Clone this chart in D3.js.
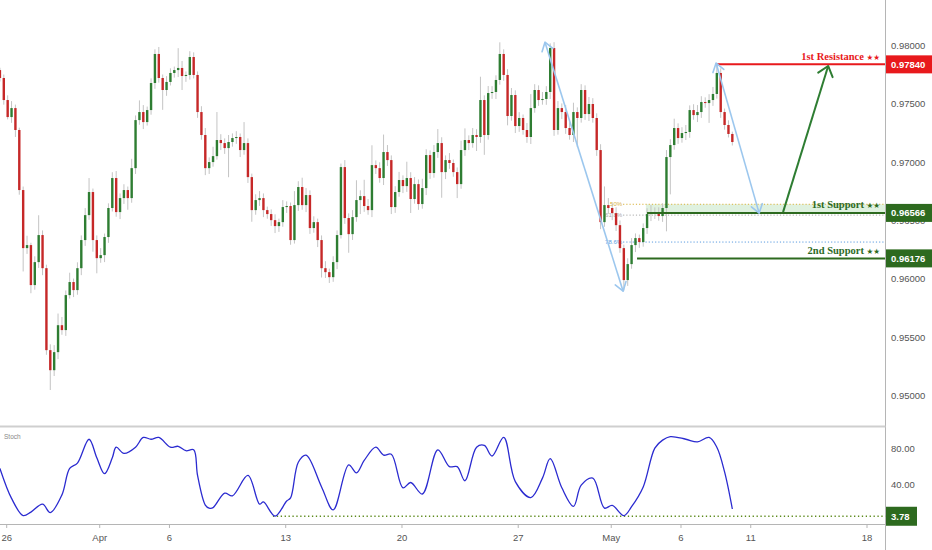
<!DOCTYPE html>
<html><head><meta charset="utf-8">
<script src="https://cdn.jsdelivr.net/npm/d3@7"></script>
<style>body{margin:0;background:#fff}svg{display:block}</style>
</head><body>
<svg id="c" width="932" height="550"></svg>
<script>
// ---- data (4H candles) ----
const firstOpen = 0.97791;
const closes = [
0.97723,0.97534,0.97388,0.97465,0.97277,0.96762,0.96264,0.96290,0.95947,0.96144,
0.96376,0.96092,0.95389,0.95217,0.95372,0.95603,0.95561,0.95861,0.95973,0.95904,
0.96092,0.96333,0.96547,0.96745,0.96333,0.96178,0.96204,0.96359,0.96608,0.96865,
0.96573,0.96693,0.96762,0.96693,0.96950,0.97362,0.97431,0.97345,0.97448,0.97680,
0.97929,0.97723,0.97620,0.97689,0.97766,0.97791,0.97809,0.97740,0.97749,0.97903,
0.97749,0.97431,0.97234,0.96950,0.97002,0.97053,0.97191,0.97165,0.97122,0.97174,
0.97208,0.97217,0.97105,0.97165,0.96873,0.96590,0.96676,0.96693,0.96590,0.96556,
0.96504,0.96453,0.96487,0.96616,0.96625,0.96333,0.96633,0.96788,0.96633,0.96719,
0.96436,0.96487,0.96333,0.96092,0.96058,0.96015,0.96144,0.96376,0.96959,0.96522,
0.96384,0.96530,0.96676,0.96710,0.96625,0.96590,0.96976,0.96950,0.96865,0.97088,
0.97019,0.96616,0.96745,0.96848,0.96796,0.96865,0.96685,0.96813,0.96642,0.96779,
0.97062,0.96908,0.97088,0.97165,0.96916,0.97019,0.96994,0.96916,0.96813,0.97105,
0.97191,0.97165,0.97234,0.97217,0.97534,0.97234,0.97594,0.97603,0.97706,0.97929,
0.97749,0.97397,0.97577,0.97311,0.97380,0.97277,0.97217,0.97465,0.97620,0.97534,
0.97543,0.97603,0.97980,0.97277,0.97465,0.97431,0.97294,0.97234,0.97431,0.97380,
0.97620,0.97414,0.97500,0.97380,0.97105,0.96487,0.96633,0.96608,0.96564,0.96461,
0.96264,0.95990,0.96127,0.96290,0.96350,0.96316,0.96436,0.96556,0.96573,0.96564,
0.96539,0.96608,0.97045,0.97148,0.97294,0.97208,0.97251,0.97260,0.97448,0.97405,
0.97431,0.97517,0.97508,0.97534,0.97586,0.97766,0.97431,0.97320,0.97243,0.97174];
// wick lengths beyond the body, in pips (0.0001)
const wickUp = [
2,3,4,6,3,2,3,8,2,5, 17,4,3,5,6,10,7,4,8,3, 5,4,6,12,3,4,6,3,4,5, 6,4,5,3,8,4,10,6,3,4,
4,6,3,5,4,3,17,6,3,5, 4,3,5,6,4,8,24,5,4,6, 4,5,3,18,4,3,5,6,4,3, 4,5,3,6,4,3,12,5,8,6,
4,5,3,4,6,3,5,4,3,6, 4,6,17,5,14,6,17,4,5,15, 6,4,5,7,4,14,5,6,4,8, 5,4,6,12,5,4,6,3,4,8,
10,4,6,5,20,4,6,5,4,10, 4,5,6,4,5,3,6,12,5,4, 6,5,4,5,6,4,6,5,8,4, 5,4,6,5,4,5,16,6,4,5,
4,3,5,6,4,3,4,5,6,4, 5,4,6,5,8,4,5,6,4,5, 6,5,4,5,6,7,4,3,4,2];
const wickDown = [
3,4,2,5,6,4,20,5,7,4, 5,6,4,17,5,6,4,5,3,6, 4,6,5,4,10,13,4,6,5,3, 4,6,5,10,4,5,4,6,3,4,
5,4,17,5,3,4,6,12,5,4, 3,5,4,6,5,4,3,6,5,25, 4,5,6,4,5,10,4,5,6,4, 5,6,5,4,5,4,3,5,4,6,
5,4,6,8,5,5,4,6,3,5, 16,5,4,12,5,4,6,5,4,6, 5,6,5,4,6,5,12,4,5,4, 6,5,4,5,22,6,5,4,12,4,
5,6,4,12,5,17,4,5,6,4, 5,8,4,6,5,4,5,6,4,5, 4,5,6,5,4,6,5,4,6,25, 4,5,6,4,5,6,4,5,6,5,
4,9,5,4,6,5,4,5,6,5, 4,5,20,32,4,5,4,6,5,4, 6,5,4,17,5,4,5,4,3,3];
// stochastic: candle index / value
const stochIdx = [0,3,6,8,11,13,16,18,20,23,25,27,29,30,32,35,37,39,41,44,46,48,50,51,53,54,55,58,60,64,67,68,71,74,75,77,79,83,86,90,92,94,97,99,101,104,106,109,113,116,118,120,123,125,127,130,133,137,140,142,145,148,150,153,156,158,161,163,166,169,171,173,177,180,183,185,187,189];
const stochVal = [58,24,4.5,8.5,17.5,8,28,58,64,91,70,52,70,82,75,82,93,91,93,82,83,78,79,50,16.5,13,13.5,30,27,50,17.5,20,4,21,24.5,65,73,37,11,62,53,67,82,73,74,36,42,29,79,60,60,44,82,84,72,93,43,25,47,69,36,15,39,47,13,16,4.5,14.6,37,81,90,94,91,88,93,82,54,12];
// axis ticks (trading-day index from Mar 26)
const dayTicks = [0,4,7,12,17,22,26,29,32,37];
const dayLabels = ["26","Apr","6","13","20","27","May","6","11","18"];
const priceTicks = [0.98,0.975,0.97,0.965,0.96,0.955,0.95];
const stochTicks = [80,40];
// levels
const resistance = 0.9784, support1 = 0.96566, support2 = 0.96176;
const fibValues = [0.9664, 0.96547, 0.96316];
const fibLabels = ["50%","61.8%","78.6%"];
const stochLevel = 3.78;
// annotation anchors [day, price]
const swingA = [[23.15,0.98030],[26.51,0.95895]];
const swingB = [[30.51,0.97851],[32.36,0.96564]];
const targetArrow = [[33.39,0.96573],[35.33,0.97826]];
const resStart = 30.51, s1Start = 27.54, s2Start = 27.11, fibStart = 26.51, stochLineStart = 11.45;

// ---- drawing ----
const svg = d3.select("#c");
const W = 932, axisX = 885.5;
const xs = d3.scaleLinear().domain([0,37]).range([6.7,867]);
const ys = d3.scaleLinear().domain([0.98,0.95]).range([45.7,395.5]);
const ss = d3.scaleLinear().domain([0,100]).range([519.6,431.3]);
const cx = i => xs((i-1.75)/6);
const font = "'Liberation Sans', Arial, sans-serif";
const serif = "'Liberation Serif', 'DejaVu Serif', serif";

const defs = svg.append("defs");
defs.append("clipPath").attr("id","mainClip").append("rect").attr("x",0).attr("y",0).attr("width",axisX).attr("height",425.5);
defs.append("clipPath").attr("id","stClip").append("rect").attr("x",0).attr("y",427.5).attr("width",axisX).attr("height",96.5);

const main = svg.append("g").attr("clip-path","url(#mainClip)");

// fib zone + lines
main.append("rect").attr("x",xs(s1Start-0.05)).attr("width",axisX-xs(s1Start-0.05))
  .attr("y",ys(fibValues[0])).attr("height",ys(support1)-ys(fibValues[0]))
  .attr("fill","rgba(76,175,80,0.18)");
const fibColors = ["#d8b23a","#a8a8a8","#5a9be0"];
fibValues.forEach((v,k)=>{
  main.append("line").attr("x1",xs(fibStart)).attr("x2",axisX).attr("y1",ys(v)).attr("y2",ys(v))
    .attr("stroke",fibColors[k]).attr("stroke-width",1).attr("stroke-dasharray","1.2,2");
  main.append("text").attr("x",xs(fibStart)-1).attr("y",ys(v)).attr("dy","0.35em")
    .attr("text-anchor","end").attr("font-family",font).attr("font-size",6)
    .attr("fill",fibColors[k]).text(fibLabels[k]);
});

// candles
const opens = closes.map((c,i)=> i===0 ? firstOpen : closes[i-1]);
const cg = main.append("g");
closes.forEach((c,i)=>{
  const o = opens[i];
  const hi = Math.max(o,c) + wickUp[i]*0.0001;
  const lo = Math.min(o,c) - wickDown[i]*0.0001;
  const x = cx(i);
  cg.append("line").attr("x1",x).attr("x2",x).attr("y1",ys(hi)).attr("y2",ys(lo))
    .attr("stroke","#c4c4c4").attr("stroke-width",1);
  const up = c >= o;
  const y1 = ys(Math.max(o,c)), y2 = ys(Math.min(o,c));
  cg.append("rect").attr("x",x-1.2).attr("width",2.4).attr("y",y1).attr("height",Math.max(1,y2-y1))
    .attr("fill", up ? "#2e7d32" : "#c62828");
});

// support / resistance lines
main.append("line").attr("x1",xs(resStart)).attr("x2",axisX).attr("y1",ys(resistance)).attr("y2",ys(resistance))
  .attr("stroke","#e8191c").attr("stroke-width",2);
main.append("line").attr("x1",xs(s1Start)).attr("x2",axisX).attr("y1",ys(support1)).attr("y2",ys(support1))
  .attr("stroke","#2d6a1f").attr("stroke-width",2);
main.append("line").attr("x1",xs(s2Start)).attr("x2",axisX).attr("y1",ys(support2)).attr("y2",ys(support2))
  .attr("stroke","#2d6a1f").attr("stroke-width",2);

function head(g, tip, from, len, ang, color, w){
  const a = Math.atan2(from[1]-tip[1], from[0]-tip[0]);
  const p1 = [tip[0]+len*Math.cos(a-ang), tip[1]+len*Math.sin(a-ang)];
  const p2 = [tip[0]+len*Math.cos(a+ang), tip[1]+len*Math.sin(a+ang)];
  g.append("path").attr("d",`M${p1}L${tip}L${p2}`).attr("fill","none")
    .attr("stroke",color).attr("stroke-width",w).attr("stroke-linejoin","round").attr("stroke-linecap","round");
}
function arrow(pts, both, color, w, len, ang){
  const a = [xs(pts[0][0]), ys(pts[0][1])], b = [xs(pts[1][0]), ys(pts[1][1])];
  main.append("line").attr("x1",a[0]).attr("y1",a[1]).attr("x2",b[0]).attr("y2",b[1])
    .attr("stroke",color).attr("stroke-width",w);
  head(main, b, a, len, ang, color, w);
  if (both) head(main, a, b, len, ang, color, w);
}
arrow(swingA, true, "#9cc7ee", 1.6, 10, 0.6);
arrow(swingB, true, "#9cc7ee", 1.6, 10, 0.6);
arrow(targetArrow, false, "#2e7d32", 2, 12, 0.68);

// labels
const lbl = (txt, y, col) => {
  const t = svg.append("text").attr("x",880).attr("y",y).attr("text-anchor","end")
    .attr("font-family",serif).attr("font-size",10.5).attr("font-weight","bold").attr("fill",col);
  t.append("tspan").text(txt + " ");
  t.append("tspan").attr("font-size",7.5).attr("font-family","'DejaVu Sans', sans-serif").text("★★");
};
lbl("1st Resistance", ys(resistance)-4.5, "#e8191c");
lbl("1st Support", ys(support1)-4.7, "#2d6a1f");
lbl("2nd Support", ys(support2)-4.5, "#2d6a1f");

// right axis
svg.append("line").attr("x1",axisX).attr("x2",axisX).attr("y1",0).attr("y2",550).attr("stroke","#b5b5b5").attr("stroke-width",1);
priceTicks.forEach(p=>{
  svg.append("text").attr("x",891).attr("y",ys(p)).attr("dy","0.35em").attr("font-family",font)
    .attr("font-size",9.5).attr("fill","#555").text(p.toFixed(5));
});
function badge(y, txt, col, h){
  svg.append("rect").attr("x",axisX+0.5).attr("y",y-h/2).attr("width",W-axisX).attr("height",h).attr("fill",col);
  svg.append("text").attr("x",891).attr("y",y).attr("dy","0.36em").attr("font-family",font)
    .attr("font-size",9.5).attr("font-weight","bold").attr("fill","#fff").text(txt);
}
badge(ys(resistance), resistance.toFixed(5), "#e8191c", 18);
badge(ys(support1), support1.toFixed(5), "#2d6a1f", 18);
badge(ys(support2), support2.toFixed(5), "#2d6a1f", 18);

// pane separator
svg.append("line").attr("x1",0).attr("x2",axisX).attr("y1",426.5).attr("y2",426.5).attr("stroke","#cfcfcf").attr("stroke-width",2);

// stochastic pane
const st = svg.append("g").attr("clip-path","url(#stClip)");
st.append("text").attr("x",4).attr("y",439).attr("font-family",font).attr("font-size",6.5).attr("fill","#888").text("Stoch");
st.append("line").attr("x1",xs(stochLineStart)).attr("x2",axisX).attr("y1",ss(stochLevel)).attr("y2",ss(stochLevel))
  .attr("stroke","#5d8a1c").attr("stroke-width",1.5).attr("stroke-dasharray","1.3,2.6");
const line = d3.line().x(d=>cx(d[0])).y(d=>ss(d[1])).curve(d3.curveCatmullRom.alpha(0.5));
st.append("path").attr("d", line(stochIdx.map((k,j)=>[k, stochVal[j]])))
  .attr("fill","none").attr("stroke","#2b2bd0").attr("stroke-width",1.3);
stochTicks.forEach(v=>{
  svg.append("text").attr("x",891).attr("y",ss(v)).attr("dy","0.35em").attr("font-family",font)
    .attr("font-size",9.5).attr("fill","#555").text(v.toFixed(2));
});
svg.append("rect").attr("x",axisX+0.5).attr("y",ss(stochLevel)-9.5).attr("width",31).attr("height",19).attr("fill","#2d6a1f");
svg.append("text").attr("x",891).attr("y",ss(stochLevel)).attr("dy","0.36em").attr("font-family",font)
  .attr("font-size",9.5).attr("font-weight","bold").attr("fill","#fff").text(stochLevel.toFixed(2));

// bottom time axis
svg.append("line").attr("x1",0).attr("x2",axisX).attr("y1",524.5).attr("y2",524.5).attr("stroke","#b5b5b5").attr("stroke-width",1);
dayTicks.forEach((d,k)=>{
  svg.append("line").attr("x1",xs(d)).attr("x2",xs(d)).attr("y1",524.5).attr("y2",528).attr("stroke","#b5b5b5");
  svg.append("text").attr("x",xs(d)).attr("y",538).attr("dy","0.35em").attr("text-anchor","middle")
    .attr("font-family",font).attr("font-size",9.5).attr("fill","#555").text(dayLabels[k]);
});
</script>
</body></html>
